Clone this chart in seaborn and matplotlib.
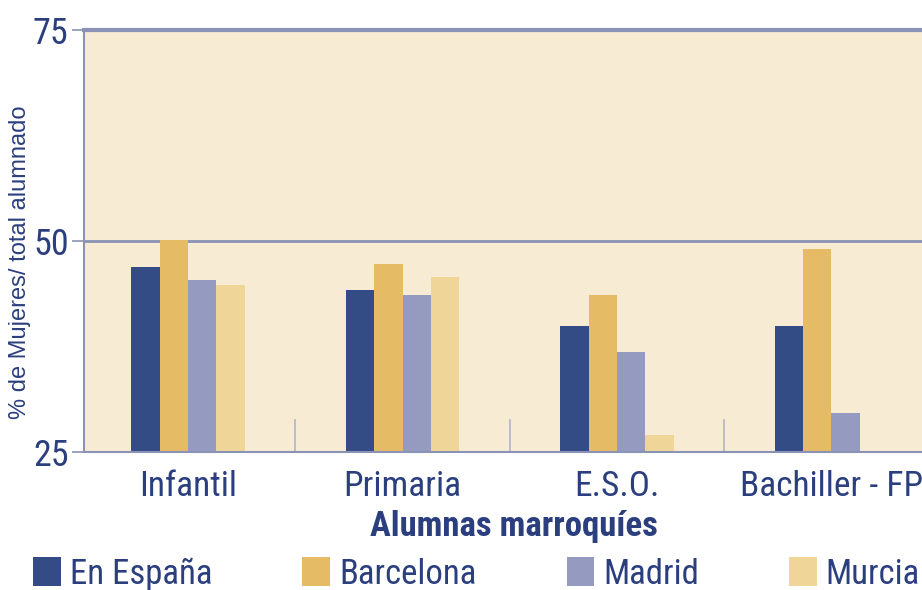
import numpy as np
import pandas as pd
import matplotlib
matplotlib.use("Agg")
import matplotlib.pyplot as plt
from matplotlib.ticker import FixedLocator
from matplotlib import font_manager as fm
import seaborn as sns

# ── Data ─────────────────────────────────────────────────────────────────────
levels = ["Infantil", "Primaria", "E.S.O.", "Bachiller - FP"]
regions = ["En España", "Barcelona", "Madrid", "Murcia"]
en_espana = [46.9, 44.2, 39.9, 39.9]
barcelona = [50.1, 47.3, 43.6, 49.1]
madrid    = [45.4, 43.6, 36.8, 29.6]
murcia    = [44.8, 45.7, 27.0, np.nan]
y_ticks   = [25, 50, 75]

COLORS = ["#344c85", "#e6bb65", "#959bc0", "#f0d598"]
NAVY = "#2b3f7e"
AXIS = "#8a93b5"
BG = "#f7ebd3"

df = pd.DataFrame({
    "Nivel": levels * 4,
    "Zona": [r for r in regions for _ in levels],
    "Pct": en_espana + barcelona + madrid + murcia,
})

sns.set_theme(style="white")

# pick a narrow face if one exists, else DejaVu condensed
names = {f.name for f in fm.fontManager.ttflist}
narrow = [n for n in ["Liberation Sans Narrow", "Arial Narrow", "Roboto Condensed",
                      "Open Sans Condensed", "DejaVu Sans Condensed"] if n in names]
plt.rcParams["font.family"] = narrow + ["DejaVu Sans"]
plt.rcParams["font.stretch"] = "condensed"

fig = plt.figure(figsize=(9.22, 5.90), dpi=100)
ax = fig.add_axes([84 / 922, 138 / 590, 859 / 922, 422 / 590])
ax.set_facecolor(BG)

sns.barplot(data=df, x="Nivel", y="Pct", hue="Zona", order=levels,
            hue_order=regions, palette=COLORS, width=0.53, ax=ax,
            saturation=1, edgecolor="none", legend=True)

ax.set_ylim(25, 75)
ax.set_xlim(-0.485, 3.52)
ax.set_yticks(y_ticks)
ax.axhline(50, color=AXIS, lw=2, zorder=0.5)

for side in ["left", "bottom", "top"]:
    ax.spines[side].set_color(AXIS)
ax.spines["left"].set_linewidth(1.5)
ax.spines["bottom"].set_linewidth(1.5)
ax.spines["top"].set_linewidth(3)
ax.spines["right"].set_visible(False)

ax.tick_params(axis="y", length=9, width=1.2, color=AXIS, labelsize=26,
               labelcolor=NAVY, pad=2, left=True)
ax.tick_params(axis="x", which="major", length=0, labelsize=25.5,
               labelcolor=NAVY, pad=13)
ax.xaxis.set_minor_locator(FixedLocator([0.5, 1.5, 2.5]))
ax.tick_params(axis="x", which="minor", direction="in", length=24,
               width=1.2, color="#b0b4c8", bottom=True)

ax.set_xlabel("Alumnas marroquíes", fontsize=25, fontweight="bold",
              color=NAVY, labelpad=5)
ax.set_ylabel("% de Mujeres/ total alumnado", fontsize=17, color=NAVY,
              family=["Liberation Sans", "DejaVu Sans"], stretch="normal")
ax.yaxis.set_label_coords(-0.062, 0.45)

handles, labels = ax.get_legend_handles_labels()
ax.get_legend().remove()
fig.legend(handles, labels, loc="center left", bbox_to_anchor=(0.036, 0.027),
           ncol=4, frameon=False, fontsize=25, labelcolor=NAVY,
           handlelength=0.8, handleheight=0.9, handletextpad=0.25,
           columnspacing=2.6, borderpad=0, borderaxespad=0)

fig.savefig("out.png", dpi=100)
